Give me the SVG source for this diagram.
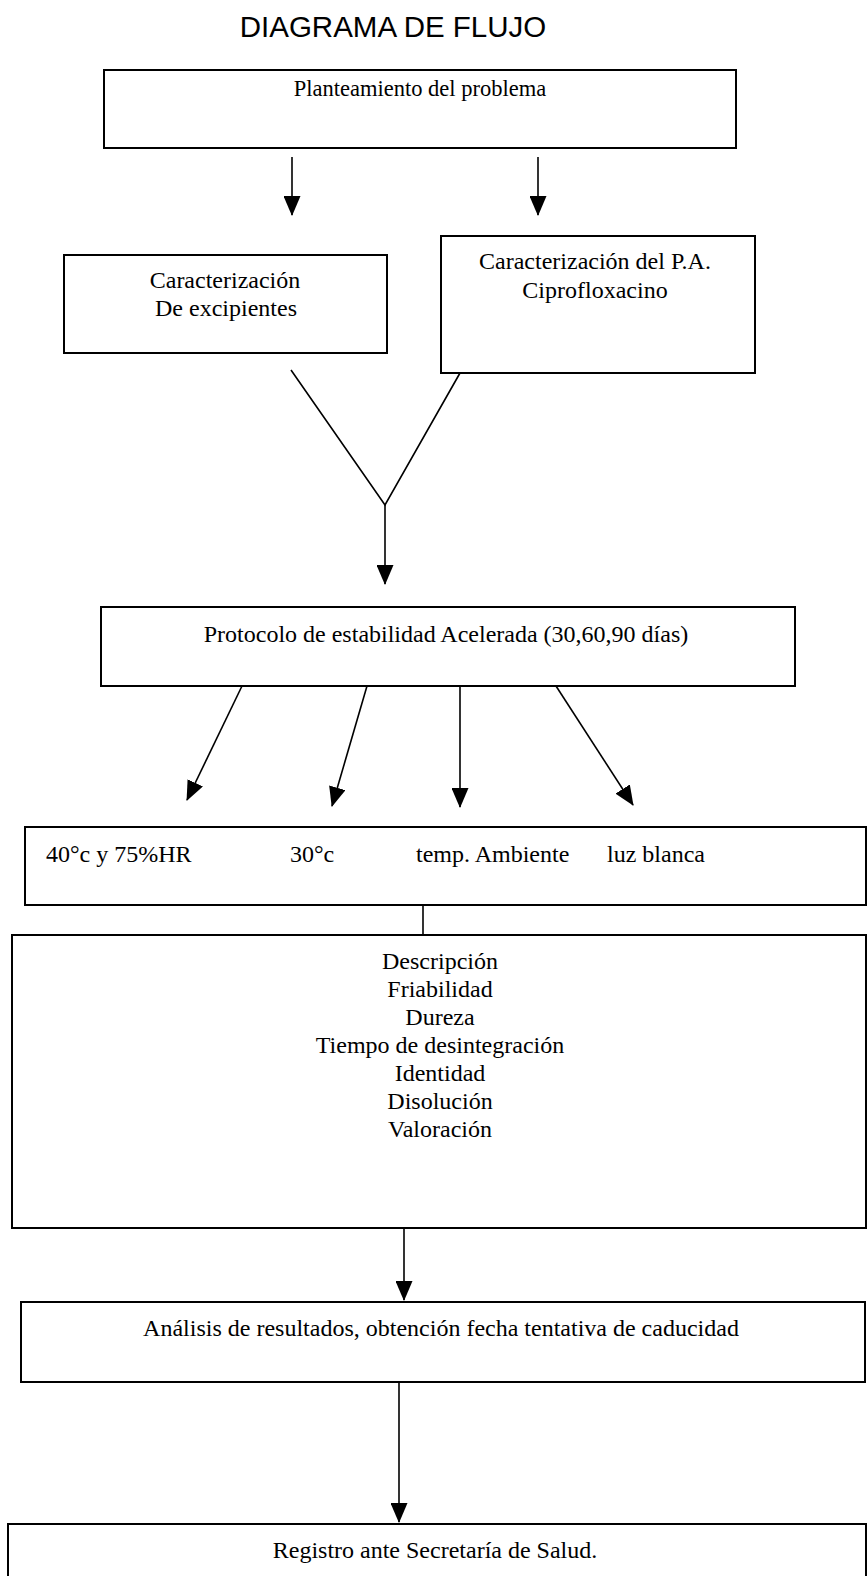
<svg xmlns="http://www.w3.org/2000/svg" width="867" height="1576" viewBox="0 0 867 1576">
<style>
.box{fill:#fff;stroke:#000;stroke-width:2}
.t{font-family:"Liberation Serif","Times New Roman",serif;font-size:24px;fill:#000}
.c{text-anchor:middle}
.con{stroke:#000;stroke-width:1.6;fill:none}
.title{font-family:"Liberation Sans",Arial,sans-serif;font-size:29.5px;fill:#000;text-anchor:middle}
</style>
<defs>
<marker id="ah" markerUnits="userSpaceOnUse" markerWidth="20" markerHeight="17" refX="19" refY="8.5" orient="auto" viewBox="0 0 20 17">
<path d="M0,0 L20,8.5 L0,17 z" fill="#000"/>
</marker>
</defs>
<rect width="867" height="1576" fill="#fff"/>
<text class="title" x="393" y="37">DIAGRAMA DE FLUJO</text>

<g id="planteamiento">
<rect class="box" x="104" y="70" width="632" height="78"/>
<text class="t c" x="420" y="96" style="font-size:22.5px">Planteamiento del problema</text>
</g>
<g id="excipientes">
<rect class="box" x="64" y="255" width="323" height="98"/>
<text class="t c" x="225" y="288">Caracterización</text>
<text class="t c" x="226" y="316">De excipientes</text>
</g>
<g id="ciprofloxacino">
<rect class="box" x="441" y="236" width="314" height="137"/>
<text class="t c" x="595" y="269">Caracterización del P.A.</text>
<text class="t c" x="595" y="298">Ciprofloxacino</text>
</g>
<g id="protocolo">
<rect class="box" x="101" y="607" width="694" height="79"/>
<text class="t c" x="446" y="642">Protocolo de estabilidad Acelerada (30,60,90 días)</text>
</g>
<g id="condiciones">
<rect class="box" x="25" y="827" width="841" height="78"/>
<text class="t" x="46" y="862">40°c y 75%HR</text>
<text class="t" x="290" y="862">30°c</text>
<text class="t" x="416" y="862">temp. Ambiente</text>
<text class="t" x="607" y="862">luz blanca</text>
</g>
<g id="pruebas">
<rect class="box" x="12" y="935" width="854" height="293"/>
<text class="t c" x="440" y="969">Descripción</text>
<text class="t c" x="440" y="997">Friabilidad</text>
<text class="t c" x="440" y="1025">Dureza</text>
<text class="t c" x="440" y="1053">Tiempo de desintegración</text>
<text class="t c" x="440" y="1081">Identidad</text>
<text class="t c" x="440" y="1109">Disolución</text>
<text class="t c" x="440" y="1137">Valoración</text>
</g>
<g id="analisis">
<rect class="box" x="21" y="1302" width="844" height="80"/>
<text class="t c" x="441" y="1336">Análisis de resultados, obtención fecha tentativa de caducidad</text>
</g>
<g id="registro">
<rect class="box" x="8" y="1524" width="858" height="70"/>
<text class="t c" x="435" y="1558">Registro ante Secretaría de Salud.</text>
</g>

<g id="connectors">
<line class="con" x1="292" y1="157" x2="292" y2="215" marker-end="url(#ah)"/>
<line class="con" x1="538" y1="157" x2="538" y2="215" marker-end="url(#ah)"/>
<polyline class="con" points="291,370 385,505 460,373"/>
<line class="con" x1="385" y1="505" x2="385" y2="584" marker-end="url(#ah)"/>
<line class="con" x1="242" y1="686" x2="187" y2="800" marker-end="url(#ah)"/>
<line class="con" x1="367" y1="686" x2="332" y2="806" marker-end="url(#ah)"/>
<line class="con" x1="460" y1="686" x2="460" y2="807" marker-end="url(#ah)"/>
<line class="con" x1="556" y1="686" x2="633" y2="805" marker-end="url(#ah)"/>
<line class="con" x1="423" y1="905" x2="423" y2="935"/>
<line class="con" x1="404" y1="1228" x2="404" y2="1300" marker-end="url(#ah)"/>
<line class="con" x1="399" y1="1382" x2="399" y2="1522" marker-end="url(#ah)"/>
</g>
</svg>
